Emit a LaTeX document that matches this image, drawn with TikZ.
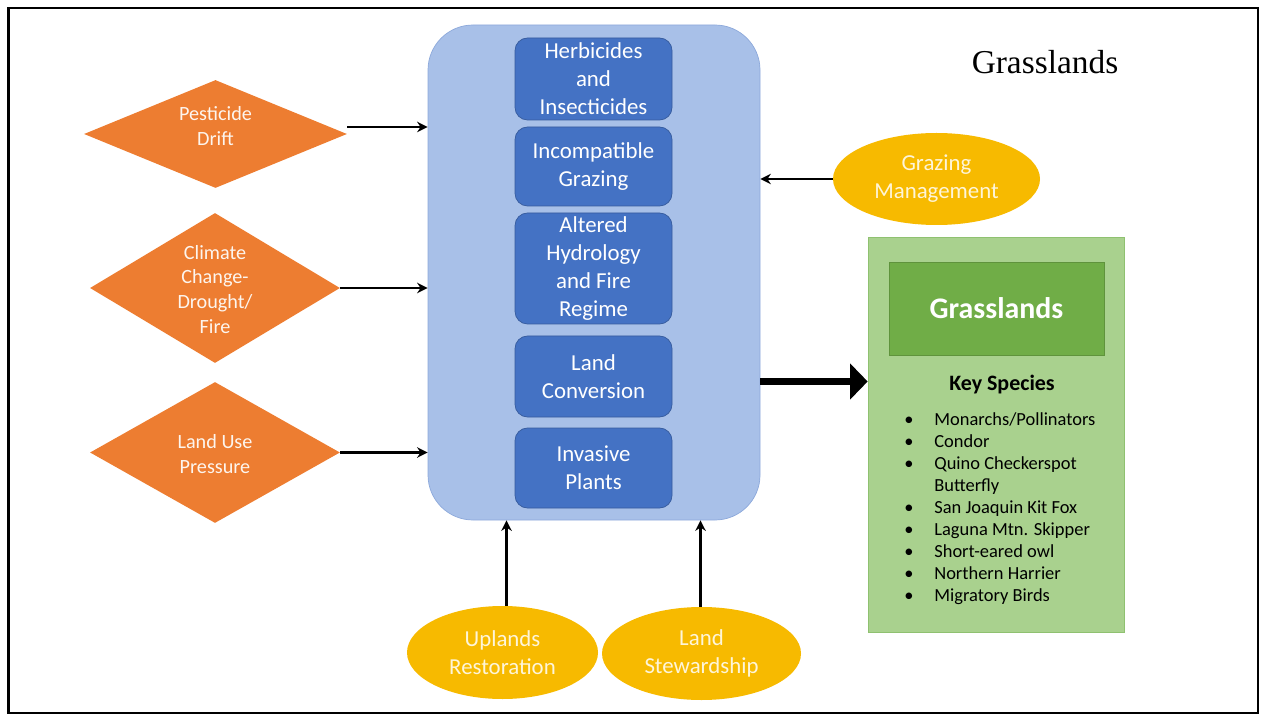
\documentclass[tikz,border=0pt]{standalone}
\usepackage{fontspec}
\setmainfont{Carlito}
\newfontfamily\titlefont{Liberation Serif}
\usetikzlibrary{shapes.geometric,arrows.meta}
\definecolor{threatorange}{HTML}{ED7D31}
\definecolor{paleblue}{HTML}{A8C0E8}
\definecolor{paleblueline}{HTML}{8DA9DB}
\definecolor{stressblue}{HTML}{4472C4}
\definecolor{actiongold}{HTML}{F7BA00}
\definecolor{palegreen}{HTML}{A9D18E}
\definecolor{palegreenline}{HTML}{8FC170}
\definecolor{darkgreen}{HTML}{70AD47}

\begin{document}
\begin{tikzpicture}[
    stressor/.style={draw=stressblue!80!black, fill=stressblue, rounded corners=0.25cm,
        minimum width=3.14cm, text=white, align=center, inner sep=0pt,
        font=\fontsize{13}{16}\selectfont},
    threat/.style={shape=diamond, fill=threatorange, inner sep=0pt},
    threattext/.style={text=white!92!threatorange, align=center,
        font=\fontsize{11.5}{14.2}\selectfont},
    action/.style={shape=ellipse, fill=actiongold, inner sep=0pt, text=white!85!actiongold,
        align=center, font=\fontsize{13}{16}\selectfont},
    arr/.style={line width=1.6pt, -{Stealth[length=6pt, width=6pt]}}
]
    % Fix the page to the size of the screenshot
        \useasboundingbox (0,0) rectangle (25.24,-14.30);
        \draw[line width=1.2pt] (0.17,-0.16) rectangle (25.16,-14.26);

    % First, the big box with the stressors stacked in it
        \node[draw=paleblueline, fill=paleblue, rounded corners=0.9cm,
              minimum width=6.64cm, minimum height=9.9cm] (main) at (11.88,-5.45) {};
        \node[stressor, minimum height=1.64cm] (herb) at (11.87,-1.58) {Herbicides\\and\\Insecticides};
        \node[stressor, minimum height=1.58cm] (incomp) at (11.87,-3.33) {Incompatible\\Grazing};
        \node[stressor, minimum height=2.22cm] (altered) at (11.87,-5.37) {Altered\\Hydrology\\and Fire\\Regime};
        \node[stressor, minimum height=1.62cm] (conv) at (11.87,-7.53) {Land\\Conversion};
        \node[stressor, minimum height=1.60cm] (invasive) at (11.87,-9.36) {Invasive\\Plants};

    % The threats on the left
        \node[threat, minimum width=5.26cm, minimum height=2.16cm] (pest) at (4.31,-2.68) {};
        \node[threattext] (pest-txt) at ([yshift=0.16cm]pest) {Pesticide\\Drift};
        \node[threat, minimum width=5.0cm, minimum height=3.0cm] (climate) at (4.30,-5.76) {};
        \node[threattext] (climate-txt) at ([yshift=-0.03cm]climate) {Climate\\Change-\\Drought/\\Fire};
        \node[threat, minimum width=5.0cm, minimum height=2.82cm] (landuse) at (4.30,-9.05) {};
        \node[threattext] (landuse-txt) at ([yshift=-0.04cm]landuse) {Land Use\\Pressure};

    % The actions
        \node[action, minimum width=4.14cm, minimum height=1.84cm] (grazing) at (18.73,-3.58) {Grazing\\Management};
        \node[action, minimum width=3.82cm, minimum height=1.86cm] (uplands) at (10.05,-13.05) {Uplands\\Restoration};
        \node[action, minimum width=3.98cm, minimum height=1.86cm] (steward) at (14.03,-13.07) {Land\\Stewardship};

    % The habitat box on the right
        \node[font=\titlefont\fontsize{19}{22}\selectfont] (title) at (20.90,-1.24) {Grasslands};
        \node[draw=palegreenline, fill=palegreen, minimum width=5.12cm, minimum height=7.9cm] (habitat) at (19.92,-8.69) {};
        \node[draw=darkgreen!85!black, fill=darkgreen, minimum width=4.3cm, minimum height=1.86cm,
              text=white, font=\fontsize{17}{20}\selectfont\bfseries] (habname) at (19.93,-6.17) {Grasslands};
        \node[font=\fontsize{12.5}{15}\selectfont\bfseries] (keysp) at (20.04,-7.70) {Key Species};
        \node[anchor=north west, inner sep=0pt, font=\fontsize{10.5}{12.5}\selectfont] (species) at (18.08,-8.20) {%
            \begin{tabular}{@{}p{0.6cm}@{}l@{}}
            \textbullet & Monarchs/Pollinators\\
            \textbullet & Condor\\
            \textbullet & Quino Checkerspot\\
                        & Butterfly\\
            \textbullet & San Joaquin Kit Fox\\
            \textbullet & Laguna Mtn. Skipper\\
            \textbullet & Short-eared owl\\
            \textbullet & Northern Harrier\\
            \textbullet & Migratory Birds
            \end{tabular}};

    % Now draw the arrows:
        \draw[arr] ([yshift=0.14cm]pest.east) -- ([yshift=0.14cm]pest.east -| main.west);
        \draw[arr] (climate.east) -- (climate.east -| main.west);
        \draw[arr] (landuse.east) -- (landuse.east -| main.west);
        \draw[arr] (grazing.west) -- (grazing.west -| main.east);
        \draw[arr] ([xshift=0.08cm]uplands.north) -- ([xshift=0.08cm]uplands.north |- main.south);
        \draw[arr] ([xshift=-0.02cm]steward.north) -- ([xshift=-0.02cm]steward.north |- main.south);
        \draw[line width=4.5pt, -{Triangle[length=10pt, width=20pt]}] ([yshift=-2.18cm]main.east) -- ([yshift=-2.18cm]main.east -| habitat.west);
\end{tikzpicture}
\end{document}
